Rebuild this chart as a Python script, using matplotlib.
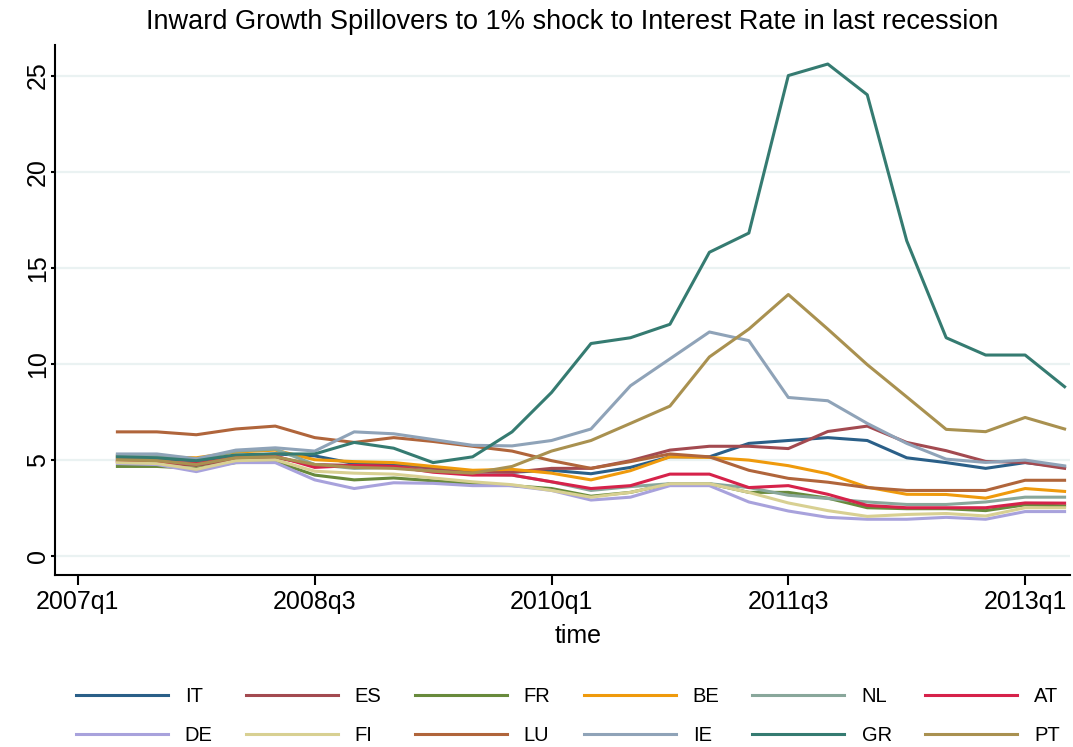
import matplotlib
matplotlib.use("Agg")
import matplotlib.pyplot as plt

# --- Données : trimestres 2007q2 .. 2013q2 ---
quarters = list(range(1, 26))  # 0 = 2007q1
tick_pos = [0, 6, 12, 18, 24]
tick_labels = ["2007q1", "2008q3", "2010q1", "2011q3", "2013q1"]

IT = [5.1, 5.05, 4.95, 5.2, 5.3, 5.2, 4.8, 4.75, 4.55, 4.4, 4.35, 4.45, 4.27,
      4.6, 5.15, 5.15, 5.85, 6.0, 6.15, 6.0, 5.1, 4.85, 4.55, 4.85, 4.62]
ES = [4.9, 4.85, 4.7, 5.0, 5.1, 4.75, 4.7, 4.65, 4.5, 4.3, 4.35, 4.55, 4.55,
      4.95, 5.5, 5.7, 5.7, 5.58, 6.47, 6.75, 5.9, 5.47, 4.91, 4.86, 4.55]
FR = [4.65, 4.65, 4.55, 4.85, 4.9, 4.2, 3.95, 4.05, 3.9, 3.75, 3.65, 3.5, 3.1,
      3.3, 3.75, 3.75, 3.3, 3.3, 3.0, 2.5, 2.45, 2.45, 2.35, 2.65, 2.6]
BE = [5.2, 5.15, 5.1, 5.4, 5.5, 5.0, 4.9, 4.85, 4.65, 4.45, 4.5, 4.3, 3.95,
      4.43, 5.15, 5.12, 4.98, 4.69, 4.27, 3.57, 3.2, 3.19, 3.0, 3.5, 3.35]
NL = [5.25, 5.2, 5.0, 5.45, 5.55, 4.75, 4.55, 4.6, 4.4, 4.25, 4.2, 3.85, 3.4,
      3.6, 3.75, 3.75, 3.55, 3.15, 2.98, 2.8, 2.67, 2.67, 2.8, 3.05, 3.05]
AT = [4.95, 4.9, 4.8, 5.1, 5.2, 4.6, 4.7, 4.65, 4.35, 4.2, 4.2, 3.85, 3.5,
      3.65, 4.25, 4.25, 3.55, 3.65, 3.2, 2.62, 2.5, 2.5, 2.5, 2.75, 2.74]
DE = [4.8, 4.75, 4.38, 4.85, 4.85, 3.95, 3.5, 3.8, 3.77, 3.65, 3.65, 3.4, 2.9,
      3.05, 3.65, 3.65, 2.8, 2.33, 2.0, 1.9, 1.9, 2.0, 1.9, 2.3, 2.3]
FI = [4.85, 4.8, 4.5, 4.95, 5.0, 4.4, 4.3, 4.25, 4.05, 3.85, 3.7, 3.4, 3.05,
      3.3, 3.75, 3.75, 3.3, 2.75, 2.35, 2.05, 2.15, 2.2, 2.07, 2.5, 2.5]
LU = [6.45, 6.45, 6.3, 6.6, 6.75, 6.15, 5.9, 6.15, 5.95, 5.7, 5.45, 4.95, 4.55,
      4.9, 5.3, 5.15, 4.45, 4.03, 3.83, 3.55, 3.4, 3.4, 3.4, 3.93, 3.93]
IE = [5.3, 5.3, 5.05, 5.5, 5.62, 5.45, 6.45, 6.35, 6.05, 5.75, 5.72, 6.0, 6.6,
      8.85, 10.25, 11.65, 11.2, 8.24, 8.07, 6.89, 5.85, 5.03, 4.86, 4.98, 4.68]
GR = [5.15, 5.1, 4.95, 5.25, 5.3, 5.3, 5.9, 5.6, 4.85, 5.15, 6.45, 8.5, 11.05,
      11.35, 12.05, 15.8, 16.8, 25.0, 25.6, 24.0, 16.4, 11.35, 10.45, 10.45, 8.8]
PT = [5.0, 4.95, 4.75, 5.1, 5.15, 4.75, 4.6, 4.55, 4.4, 4.3, 4.65, 5.45, 6.0,
      6.89, 7.79, 10.35, 11.8, 13.6, 11.8, 9.95, 8.27, 6.58, 6.46, 7.2, 6.6]

series = [("IT", IT, "#2a5f88"), ("ES", ES, "#a34a50"), ("FR", FR, "#688a3c"),
          ("BE", BE, "#ef9a0c"), ("NL", NL, "#89a79b"), ("AT", AT, "#d6224a"),
          ("DE", DE, "#a8a2dc"), ("FI", FI, "#d8d092"), ("LU", LU, "#b0653b"),
          ("IE", IE, "#8fa3b8"), ("GR", GR, "#357b71"), ("PT", PT, "#a99150")]

plt.rcParams["font.family"] = ["Liberation Sans", "DejaVu Sans"]

fig = plt.figure(figsize=(10.73, 7.47), dpi=100)
ax = fig.add_axes([0.0513, 0.2303, 0.946, 0.7097])

handles = {}
for name, vals, col in series:
    h, = ax.plot(quarters, vals, color=col, linewidth=2.2, label=name)
    handles[name] = h

ax.set_xlim(-0.58, 25.14)
ax.set_ylim(-1.0, 26.6)
ax.set_yticks([0, 5, 10, 15, 20, 25])
ax.set_xticks(tick_pos)
ax.set_xticklabels(tick_labels)
ax.grid(axis="y", color="#eaf2f2", linewidth=1.6)
ax.set_axisbelow(True)
ax.spines["top"].set_visible(False)
ax.spines["right"].set_visible(False)
ax.spines["left"].set_linewidth(1.5)
ax.spines["bottom"].set_linewidth(1.5)
ax.tick_params(axis="x", length=7, width=1.5, labelsize=18, pad=3.5)
ax.tick_params(axis="y", length=3, width=1.5, labelsize=18, pad=0.5)
for lab in ax.get_yticklabels():
    lab.set_rotation(90)
    lab.set_va("center")

fig.text(0.533, 0.97, "Inward Growth Spillovers to 1% shock to Interest Rate in last recession",
         ha="center", va="center", fontsize=19.5)
fig.text(0.539, 0.148, "time", ha="center", va="center", fontsize=18)

# ordre ligne par ligne (legende remplie par colonnes)
order = ["IT", "DE", "ES", "FI", "FR", "LU", "BE", "IE", "NL", "GR", "AT", "PT"]
fig.legend([handles[n] for n in order], order, ncol=6, loc="center",
           bbox_to_anchor=(0.529, 0.041), frameon=False, fontsize=14.5,
           handlelength=4.57, handletextpad=0.85, columnspacing=1.64,
           labelspacing=1.0)

fig.savefig("out.png", dpi=100)
